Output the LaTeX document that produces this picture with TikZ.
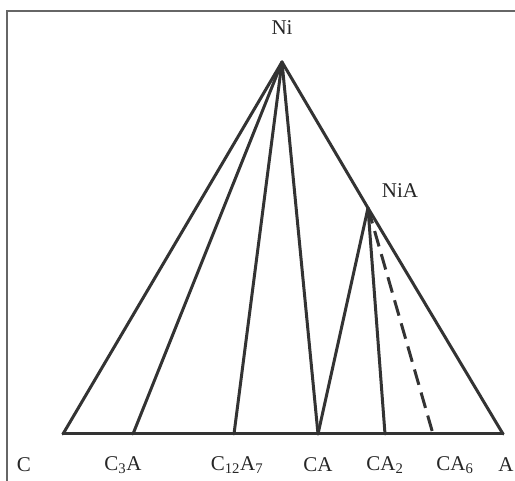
\documentclass[tikz,border=0pt]{standalone}
\usepackage{fontspec}
\setmainfont{Liberation Serif}
\begin{document}
\begin{tikzpicture}[x=1pt,y=-1pt,
  tie/.style={line width=3pt,draw=black!80,line cap=round},
  lbl/.style={font=\fontsize{21}{23}\selectfont,text=black!85,inner sep=0pt}]
\useasboundingbox (0,0) rectangle (515,481);
\draw[black!60,line width=1.2pt] (7,481) -- (7,11) -- (515,11);
\coordinate (Ni) at (282,62);
\coordinate (NiA) at (368,208);
\coordinate (C) at (63,434);
\coordinate (C3A) at (133,434);
\coordinate (C12A7) at (234,434);
\coordinate (CA) at (318,434);
\coordinate (CA2) at (385,434);
\coordinate (CA6) at (433,434);
\coordinate (A) at (503,434);
\draw[tie] (C) -- (A);
\draw[tie] (Ni) -- (C);
\draw[tie] (Ni) -- (C3A);
\draw[tie] (Ni) -- (C12A7);
\draw[tie] (Ni) -- (CA);
\draw[tie] (Ni) -- (NiA) -- (A);
\draw[tie] (NiA) -- (CA);
\draw[tie] (NiA) -- (CA2);
\draw[tie,line cap=butt,dash pattern=on 16pt off 8pt] (NiA) -- (CA6);
\node[lbl] (lNi) at (282,28) {Ni};
\node[lbl] (lNiA) at (400,191) {NiA};
\node[lbl] (lC) at (24,465) {C};
\node[lbl] (lC3A) at (123,465) {C\textsubscript{3}A};
\node[lbl] (lC12A7) at (237,465) {C\textsubscript{12}A\textsubscript{7}};
\node[lbl] (lCA) at (318,465) {CA};
\node[lbl] (lCA2) at (385,465) {CA\textsubscript{2}};
\node[lbl] (lCA6) at (455,465) {CA\textsubscript{6}};
\node[lbl] (lA) at (506,465) {A};
\end{tikzpicture}
\end{document}
